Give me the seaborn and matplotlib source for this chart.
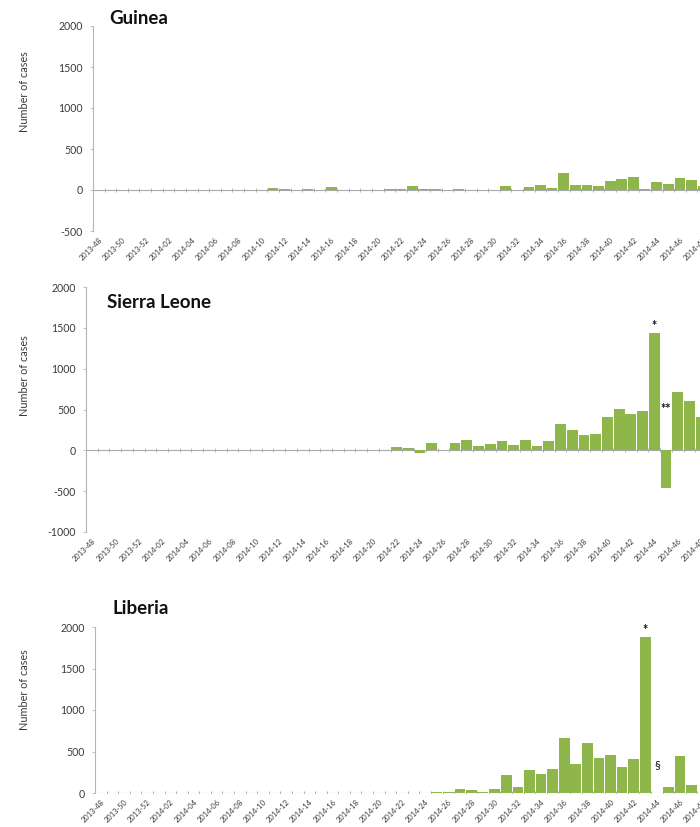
import numpy as np
import pandas as pd
import matplotlib
matplotlib.use("Agg")
import matplotlib.pyplot as plt
import seaborn as sns

# Epidemiological weeks 2013-48 .. 2014-48
weeks = [f"2013-{w:02d}" for w in range(48, 53)] + [f"2014-{w:02d}" for w in range(1, 49)]

guinea = [0, 0, 0, 0, 0, 0, 0, 0, 0, 0, 0, 0, 0,
          3, 5, 25, 12, 5, 10, 5, 35, 5, 3, 2, 5, 8,
          18, 45, 18, 10, 2, 14, 3, 2, 5, 45, 3, 38, 55, 28,
          205, 65, 57, 52, 115, 138, 155, 18, 97, 78, 144, 120, 45]

sierra_leone = [0] * 26 + [41, 24, -33, 94, 8, 90, 130, 49, 73, 110, 61, 126, 53, 110,
                           326, 248, 183, 200, 403, 505, 448, 476, 1435, -467, 711, 598, 406]

liberia = [0] * 17 + [3] + [0] * 11 + [16, 8, 52, 40, 12, 44, 213, 76, 273, 233, 285,
                                      663, 349, 602, 422, 458, 317, 410, 1875, 0, 76, 446, 92, 0]

countries = ["Guinea", "Sierra Leone", "Liberia"]
series = [guinea, sierra_leone, liberia]
y_ranges = [(-500, 2000), (-1000, 2000), (0, 2000)]

W, H = 700, 827
sns.set_theme(style="white")
plt.rcParams["font.family"] = ["Lato", "DejaVu Sans"]

fig = plt.figure(figsize=(W / 100, H / 100), dpi=100)

# axes boxes in pixels: left, top, right, bottom
boxes = [(93, 26, 709, 231), (86, 287, 707, 532), (95, 627, 709, 793)]
titles_px = [(109, 18), (107, 302), (112, 609)]
label_centres = [92, 376, 690]

bar_color = "#8fb64a"
axis_grey = "#b5b5b5"
text_grey = "#3a3a3a"

axes = []
for name, vals, (ymin, ymax), (l, t, r, b), (tx, ty), yc in zip(
        countries, series, y_ranges, boxes, titles_px, label_centres):
    ax = fig.add_axes([l / W, 1 - b / H, (r - l) / W, (b - t) / H])
    df = pd.DataFrame({"week": weeks, "cases": vals})
    sns.barplot(data=df, x="week", y="cases", order=weeks, color=bar_color,
                saturation=1, width=0.92, errorbar=None, ax=ax, linewidth=0)
    n = len(weeks)
    ax.set_xlim(-0.5, n - 0.5)
    ax.set_ylim(ymin, ymax)
    yt = np.arange(ymin, ymax + 1, 500)
    ax.set_yticks(yt)
    ax.set_yticklabels([str(v) for v in yt], fontsize=7.6, color=text_grey)
    ax.set_xticks(np.arange(0, n, 2))
    ax.set_xticklabels(weeks[::2], rotation=45, ha="right", rotation_mode="anchor",
                       fontsize=5.4, color=text_grey)
    ax.tick_params(axis="x", length=0, pad=4)
    ax.tick_params(axis="y", length=2.5, width=0.6, color=axis_grey, pad=5, left=True)
    for s in ["top", "right", "bottom"]:
        ax.spines[s].set_visible(False)
    ax.spines["left"].set_color(axis_grey)
    ax.spines["left"].set_linewidth(0.8)
    # category axis drawn across zero, with small ticks between weeks
    ax.axhline(0, color="#a8a8a8", lw=0.8, zorder=0)
    ax.plot(np.arange(n) - 0.5, np.zeros(n), ls="none", marker="|",
            ms=3, mew=0.6, color="#a8a8a8", zorder=0)
    ax.set_xlabel("")
    ax.set_ylabel("Number of cases", fontsize=7.8, color=text_grey)
    ax.yaxis.set_label_coords(-(l - 30) / (r - l), (b - yc) / (b - t))
    fig.text(tx / W, 1 - ty / H, name, fontsize=13.5, fontweight="bold",
             color="#111111", va="center", ha="left")
    axes.append(ax)

ax_sl, ax_lr = axes[1], axes[2]
i43 = weeks.index("2014-43")
i44 = weeks.index("2014-44")
i45 = weeks.index("2014-45")
ax_sl.annotate("*", (i44, sierra_leone[i44]), xytext=(0, 1), textcoords="offset points",
               ha="center", va="bottom", fontsize=9, fontweight="bold", color="#111111")
ax_sl.text(i45, 500, "**", ha="center", va="center", fontsize=9, fontweight="bold",
           color="#111111")
ax_lr.annotate("*", (i43, liberia[i43]), xytext=(0, 1), textcoords="offset points",
               ha="center", va="bottom", fontsize=9, fontweight="bold", color="#111111")
ax_lr.text(i44, 340, "§", ha="center", va="center", fontsize=8.5, color="#111111")

fig.savefig("out.png", dpi=100)
